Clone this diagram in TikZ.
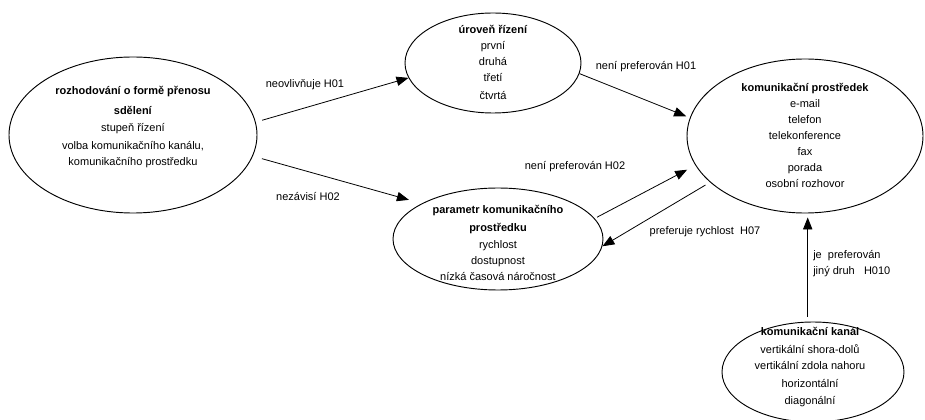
\documentclass[tikz,border=0pt]{standalone}
\usepackage{fontspec}
\setmainfont{Liberation Sans}
\usetikzlibrary{shapes.geometric,arrows.meta}
\begin{document}
\begin{tikzpicture}[x=0.75pt,y=-0.75pt,
  oval/.style={draw, ellipse, line width=0.7pt, inner sep=0pt},
  txt/.style={align=center, inner sep=0pt, font=\fontsize{8.25}{12}\selectfont},
  lbl/.style={inner sep=0pt, font=\fontsize{8.25}{12}\selectfont},
  arr/.style={line width=0.6pt, -{Triangle[length=9pt,width=7pt]}}]
\useasboundingbox (0,0) rectangle (925,420);

% ellipses
\node[oval, minimum width=186pt, minimum height=117pt] (rozhod) at (133,135) {};
\node[oval, minimum width=132pt, minimum height=75pt] (uroven) at (493,63) {};
\node[oval, minimum width=177pt, minimum height=115.5pt] (komun) at (805,136) {};
\node[oval, minimum width=157.5pt, minimum height=76.5pt] (param) at (498,239) {};
\node[oval, minimum width=136.5pt, minimum height=75pt] (kanal) at (813,372) {};

% ellipse contents
\node[txt] (rozhod-t) at (133,127) {\textbf{rozhodování o formě přenosu}\\[3pt]
  \textbf{sdělení}\\[1pt] stupeň řízení\\[1pt] volba komunikačního kanálu,\\ komunikačního prostředku};
\node[txt] (uroven-t) at (493,62) {\textbf{úroveň řízení}\\ první\\ druhá\\ třetí\\[1.5pt] čtvrtá};
\node[txt] (komun-t) at (805,135) {\textbf{komunikační prostředek}\\ e-mail\\ telefon\\
  telekonference\\ fax\\ porada\\ osobní rozhovor};
\node[txt] (param-t) at (498,243) {\textbf{parametr komunikačního}\\[1.5pt]
  \textbf{prostředku}\\[0.75pt] rychlost\\ dostupnost\\ nízká časová náročnost};
\node[txt] (kanal-t) at (810,367) {\textbf{komunikační kanál}\\[2pt] vertikální shora-dolů\\
  vertikální zdola nahoru\\[1pt] horizontální\\[1pt] diagonální};

% connectors
\draw[arr, shorten <=5pt] (rozhod.6) -- (uroven.190);
\draw[arr, shorten <=7pt, shorten >=10pt] (rozhod.-10) -- (param.155);
\draw[arr, shorten >=3pt] (uroven.-7) -- (komun.171);
\draw[arr, shorten <=2pt, shorten >=7pt] (param.12) -- (komun.195);
\draw[arr, shorten <=4pt] (komun.206) -- (param.-4);
\draw[arr, shorten <=3.75pt, shorten >=3pt] (kanal.96) -- (kanal.96 |- komun.south);

% connector labels
\node[lbl] (l-neovl) at (305,85) {neovlivňuje H01};
\node[lbl] (l-nezav) at (308,197) {nezávisí H02};
\node[lbl] (l-nepref1) at (646,67) {není preferován H01};
\node[lbl] (l-nepref2) at (575,167) {není preferován H02};
\node[lbl] (l-pref) at (705,232) {preferuje rychlost\ \ H07};
\node[lbl, anchor=west, align=left] (l-jiny) at (813,264) {je\ \ preferován\\ jiný druh\ \ \ H010};
\end{tikzpicture}
\end{document}
